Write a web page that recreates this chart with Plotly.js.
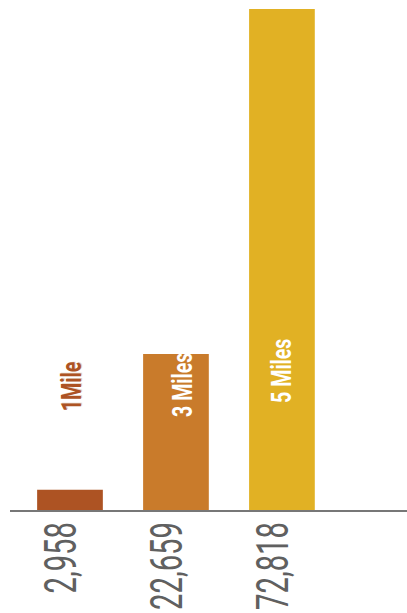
<!DOCTYPE html>
<html><head><meta charset="utf-8">
<script src="https://cdn.plot.ly/plotly-3.0.1.min.js"></script>
<style>html,body{margin:0;padding:0;background:#fff}#c{width:407px;height:613px}</style>
</head><body><div id="c"></div>
<script>
const labels = ["1Mile", "3 Miles", "5 Miles"];
const values = [2958, 22659, 72818];
const colors = ["#AD5323", "#C97B2B", "#E1B124"];
const tickText = values.map(v => v.toLocaleString("en-US"));
const xs = [0, 1, 2];

const trace = {
  type: "bar", x: xs, y: values, width: 0.62,
  marker: {color: colors}, hoverinfo: "none"
};

const annStyle = [
  {y: 0.248, xshift: 2, color: "#AD5323", shadow: "1px 1px 0px #e6d6c6"},
  {y: 0.25, xshift: 7, color: "#ffffff", shadow: "none"},
  {y: 0.278, xshift: 0, color: "#ffffff", shadow: "none"}
];
const annotations = labels.map((t, i) => ({
  x: xs[i], y: annStyle[i].y, xref: "x", yref: "paper", text: t,
  showarrow: false, textangle: -90, xanchor: "center", yanchor: "middle",
  xshift: annStyle[i].xshift,
  font: {family: "Roboto, sans-serif", size: 28, weight: 700, color: annStyle[i].color, shadow: annStyle[i].shadow}
}));

const layout = {
  width: 407, height: 613,
  margin: {l: 10, r: 0, t: 9, b: 103},
  paper_bgcolor: "#fff", plot_bgcolor: "#fff",
  showlegend: false,
  xaxis: {
    range: [-0.566, 3.18], tickvals: xs, ticktext: tickText, tickangle: -90,
    showline: true, linecolor: "#777", linewidth: 2, showgrid: false, zeroline: false,
    ticks: "", ticklen: 0,
    tickfont: {family: "Roboto, sans-serif", size: 45, weight: 400, color: "#606060"}
  },
  yaxis: {range: [0, 72818], visible: false, showgrid: false, zeroline: false},
  annotations: annotations
};

function condense(sel, f) {
  document.querySelectorAll(sel).forEach(t => {
    const w = t.getComputedTextLength();
    t.setAttribute("textLength", (w * f).toFixed(1));
    t.setAttribute("lengthAdjust", "spacingAndGlyphs");
  });
}
Plotly.newPlot("c", [trace], layout, {displayModeBar: false, staticPlot: true}).then(() => {
  condense(".xtick text", 0.65);
  condense(".annotation-text", 0.7);
  document.querySelectorAll(".xtick text").forEach(t => {
    const r = t.getBoundingClientRect();
    const d = r.top - 522;
    const tr = t.getAttribute("transform") || "";
    t.setAttribute("transform", "translate(-9," + (-d).toFixed(1) + ") " + tr);
  });
});
</script></body></html>
